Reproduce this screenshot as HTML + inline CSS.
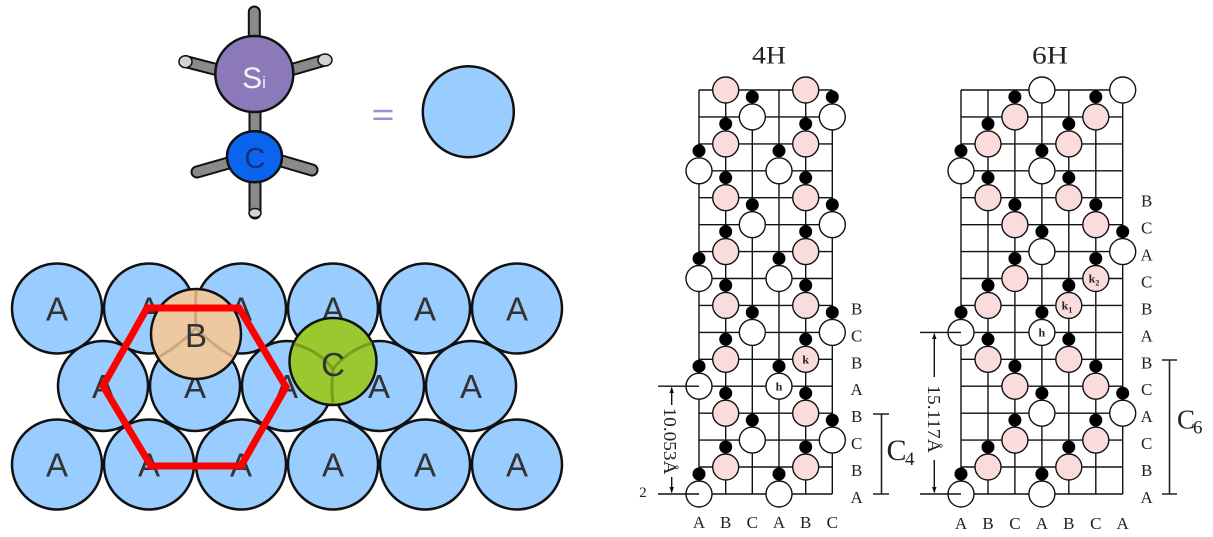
<!DOCTYPE html>
<html><head><meta charset="utf-8"><style>
html,body{margin:0;padding:0;background:#fff;}
svg{display:block;}
.sans{font-family:"Liberation Sans",sans-serif;}
.serif{font-family:"Liberation Serif",serif;}
.g{stroke:#111;stroke-width:1.4;fill:none;}
.w{fill:#fff;stroke:#111;stroke-width:1.4;}
.p{fill:#fadcdc;stroke:#111;stroke-width:1.4;}
.d{fill:#000;}
.ca{fill:#99ccff;stroke:#111;stroke-width:2.5;}
.la{font-family:"Liberation Serif",serif;font-size:17px;fill:#222;text-anchor:middle;}
.at{font-family:"Liberation Sans",sans-serif;font-size:33px;fill:#333;text-anchor:middle;}
</style></head><body>
<svg width="1213" height="537" viewBox="0 0 1213 537" xmlns="http://www.w3.org/2000/svg">
<rect width="1213" height="537" fill="#fff"/>

<!-- Molecule -->
<g stroke-linecap="round" fill="none">
<path d="M254.3 12V45 M186 61.7L222 71 M325 60L287 71 M255 108V136 M197 172L232 162 M312 170L278 160 M255 170V213" stroke="#111" stroke-width="13"/>
<path d="M254.3 12V45 M186 61.7L222 71 M325 60L287 71 M255 108V136 M197 172L232 162 M312 170L278 160 M255 170V213" stroke="#8a8a8a" stroke-width="9"/>
</g>
<ellipse cx="185.5" cy="61.7" rx="6.5" ry="6" fill="#d2d2d2" stroke="#111" stroke-width="1.5"/>
<ellipse cx="325" cy="60" rx="7" ry="6" fill="#d2d2d2" stroke="#111" stroke-width="1.5"/>
<ellipse cx="255" cy="213" rx="6" ry="4.5" fill="#d2d2d2" stroke="#111" stroke-width="1.5"/>
<ellipse cx="254.3" cy="74" rx="39" ry="38" fill="#8b79b9" stroke="#111" stroke-width="2.5"/>
<ellipse cx="254.5" cy="156.7" rx="27.5" ry="25.5" fill="#0a64ee" stroke="#111" stroke-width="2.5"/>
<text x="254" y="88" class="sans" fill="#f2f2f2" text-anchor="middle"><tspan font-size="30">S</tspan><tspan font-size="17">i</tspan></text>
<text x="255" y="168" class="sans" font-size="29" fill="#14307a" text-anchor="middle">C</text>
<rect x="373.5" y="109.8" width="19" height="2.5" fill="#9b8fd6"/>
<rect x="373.5" y="117.5" width="19" height="2.5" fill="#9b8fd6"/>
<circle cx="468.3" cy="111.7" r="45.5" class="ca"/>

<!-- Close packed layer -->
<g>
<circle cx="57" cy="308.5" r="45" class="ca"/><circle cx="149" cy="308.5" r="45" class="ca"/><circle cx="241" cy="308.5" r="45" class="ca"/><circle cx="333" cy="308.5" r="45" class="ca"/><circle cx="425" cy="308.5" r="45" class="ca"/><circle cx="517" cy="308.5" r="45" class="ca"/>
<circle cx="103" cy="386" r="45" class="ca"/><circle cx="195" cy="386" r="45" class="ca"/><circle cx="287" cy="386" r="45" class="ca"/><circle cx="379" cy="386" r="45" class="ca"/><circle cx="471" cy="386" r="45" class="ca"/>
<circle cx="57" cy="464.5" r="45" class="ca"/><circle cx="149" cy="464.5" r="45" class="ca"/><circle cx="241" cy="464.5" r="45" class="ca"/><circle cx="333" cy="464.5" r="45" class="ca"/><circle cx="425" cy="464.5" r="45" class="ca"/><circle cx="517" cy="464.5" r="45" class="ca"/>
</g>
<g class="at">
<text x="57" y="320.5">A</text><text x="149" y="320.5">A</text><text x="241" y="320.5">A</text><text x="333" y="320.5">A</text><text x="425" y="320.5">A</text><text x="517" y="320.5">A</text>
<text x="103" y="398">A</text><text x="195" y="398">A</text><text x="287" y="398">A</text><text x="379" y="398">A</text><text x="471" y="398">A</text>
<text x="57" y="476.5">A</text><text x="149" y="476.5">A</text><text x="241" y="476.5">A</text><text x="333" y="476.5">A</text><text x="425" y="476.5">A</text><text x="517" y="476.5">A</text>
</g>
<circle cx="196" cy="334" r="45" fill="#ecc9a1" stroke="#111" stroke-width="2.5"/>
<path d="M196 290Q195 310 196 328 M196 328Q180 345 159 357 M196 328Q212 345 233 357" stroke="#b08858" stroke-opacity=".5" stroke-width="3" fill="none"/>
<text x="196" y="347" class="at">B</text>
<circle cx="333" cy="361.5" r="43.5" fill="#99c92e" stroke="#111" stroke-width="2.5"/>
<path d="M294 344Q318 350 333 369 M372 343Q348 350 333 369 M333 369Q331 388 333 404" stroke="#6f8f1a" stroke-opacity=".75" stroke-width="3" fill="none"/>
<text x="333" y="376" class="at">C</text>
<polygon points="147,308 239,308 286,387 241,466 151,466 103,386" fill="none" stroke="#ff0000" stroke-width="7" stroke-linejoin="miter"/>

<!-- 4H -->
<text x="769" y="63.5" class="serif" font-size="25" fill="#222" text-anchor="middle" textLength="34" lengthAdjust="spacingAndGlyphs">4H</text>
<path class="g" d="M699 90V494M725.7 90V494M752.3 90V494M779 90V494M805.7 90V494M832.3 90V494
M699 90H832.3M699 116.9H832.3M699 143.9H832.3M699 170.8H832.3M699 197.7H832.3M699 224.7H832.3M699 251.6H832.3M699 278.5H832.3M699 305.4H832.3M699 332.4H832.3M699 359.3H832.3M699 386.2H832.3M699 413.2H832.3M699 440.1H832.3M699 467H832.3M699 494H832.3"/>
<g>
<circle class="p" cx="725.7" cy="90" r="13"/><circle class="p" cx="805.7" cy="90" r="13"/>
<circle class="p" cx="725.7" cy="143.9" r="13"/><circle class="p" cx="805.7" cy="143.9" r="13"/>
<circle class="p" cx="725.7" cy="197.7" r="13"/><circle class="p" cx="805.7" cy="197.7" r="13"/>
<circle class="p" cx="725.7" cy="251.6" r="13"/><circle class="p" cx="805.7" cy="251.6" r="13"/>
<circle class="p" cx="725.7" cy="305.4" r="13"/><circle class="p" cx="805.7" cy="305.4" r="13"/>
<circle class="p" cx="725.7" cy="359.3" r="13"/><circle class="p" cx="805.7" cy="359.3" r="13"/>
<circle class="p" cx="725.7" cy="413.2" r="13"/><circle class="p" cx="805.7" cy="413.2" r="13"/>
<circle class="p" cx="725.7" cy="467" r="13"/><circle class="p" cx="805.7" cy="467" r="13"/>
<circle class="w" cx="752.3" cy="116.9" r="13"/><circle class="w" cx="832.3" cy="116.9" r="13"/>
<circle class="w" cx="752.3" cy="224.7" r="13"/><circle class="w" cx="832.3" cy="224.7" r="13"/>
<circle class="w" cx="752.3" cy="332.4" r="13"/><circle class="w" cx="832.3" cy="332.4" r="13"/>
<circle class="w" cx="752.3" cy="440.1" r="13"/><circle class="w" cx="832.3" cy="440.1" r="13"/>
<circle class="w" cx="699" cy="170.8" r="13"/><circle class="w" cx="779" cy="170.8" r="13"/>
<circle class="w" cx="699" cy="278.5" r="13"/><circle class="w" cx="779" cy="278.5" r="13"/>
<circle class="w" cx="699" cy="386.2" r="13"/><circle class="w" cx="779" cy="386.2" r="13"/>
<circle class="w" cx="699" cy="494" r="13"/><circle class="w" cx="779" cy="494" r="13"/>
</g>
<g class="d">
<circle cx="752.3" cy="96.9" r="6.5"/><circle cx="832.3" cy="96.9" r="6.5"/>
<circle cx="725.7" cy="123.9" r="6.5"/><circle cx="805.7" cy="123.9" r="6.5"/>
<circle cx="699" cy="150.8" r="6.5"/><circle cx="779" cy="150.8" r="6.5"/>
<circle cx="725.7" cy="177.7" r="6.5"/><circle cx="805.7" cy="177.7" r="6.5"/>
<circle cx="752.3" cy="204.7" r="6.5"/><circle cx="832.3" cy="204.7" r="6.5"/>
<circle cx="725.7" cy="231.6" r="6.5"/><circle cx="805.7" cy="231.6" r="6.5"/>
<circle cx="699" cy="258.5" r="6.5"/><circle cx="779" cy="258.5" r="6.5"/>
<circle cx="725.7" cy="285.4" r="6.5"/><circle cx="805.7" cy="285.4" r="6.5"/>
<circle cx="752.3" cy="312.4" r="6.5"/><circle cx="832.3" cy="312.4" r="6.5"/>
<circle cx="725.7" cy="339.3" r="6.5"/><circle cx="805.7" cy="339.3" r="6.5"/>
<circle cx="699" cy="366.2" r="6.5"/><circle cx="779" cy="366.2" r="6.5"/>
<circle cx="725.7" cy="393.2" r="6.5"/><circle cx="805.7" cy="393.2" r="6.5"/>
<circle cx="752.3" cy="420.1" r="6.5"/><circle cx="832.3" cy="420.1" r="6.5"/>
<circle cx="725.7" cy="447" r="6.5"/><circle cx="805.7" cy="447" r="6.5"/>
<circle cx="699" cy="474" r="6.5"/><circle cx="779" cy="474" r="6.5"/>
</g>
<text x="805.7" y="363.5" class="serif" font-size="12" font-weight="bold" fill="#222" text-anchor="middle">k</text>
<text x="779" y="390.5" class="serif" font-size="12" font-weight="bold" fill="#222" text-anchor="middle">h</text>
<g class="la">
<text x="856.7" y="314.4">B</text><text x="856.7" y="341.4">C</text><text x="856.7" y="368.3">B</text><text x="856.7" y="395.2">A</text><text x="856.7" y="422.2">B</text><text x="856.7" y="449.1">C</text><text x="856.7" y="476">B</text><text x="856.7" y="503">A</text>
<text x="699" y="528">A</text><text x="725.7" y="528">B</text><text x="752.3" y="528">C</text><text x="779" y="528">A</text><text x="805.7" y="528">B</text><text x="832.3" y="528">C</text>
</g>
<!-- 4H dimension -->
<path d="M658 386.2H699M658 494H699M671.7 388V405M671.7 477V492" stroke="#111" stroke-width="1.4" fill="none"/>
<polygon points="669.5,393 673.9,393 671.7,386.5" fill="#111"/>
<polygon points="669.5,487 673.9,487 671.7,493.5" fill="#111"/>
<text transform="translate(670,441) rotate(90)" x="0" y="6" class="serif" font-size="18" fill="#222" text-anchor="middle" textLength="67" lengthAdjust="spacingAndGlyphs">10.053Å</text>
<text x="643" y="497" class="serif" font-size="15" fill="#222" text-anchor="middle">2</text>
<!-- C4 bracket -->
<path d="M881.5 414V494M873 414H889M873 494H889" stroke="#222" stroke-width="1.6" fill="none"/>
<text x="886.5" y="460" class="serif" font-size="30" fill="#222">C</text>
<text x="905" y="465" class="serif" font-size="19" fill="#222">4</text>

<!-- 6H -->
<text x="1050" y="63.5" class="serif" font-size="25" fill="#222" text-anchor="middle" textLength="36" lengthAdjust="spacingAndGlyphs">6H</text>
<path class="g" d="M961 90V494M988 90V494M1014.9 90V494M1041.9 90V494M1068.8 90V494M1095.8 90V494M1122.7 90V494
M961 90H1122.7M961 116.9H1122.7M961 143.9H1122.7M961 170.8H1122.7M961 197.7H1122.7M961 224.7H1122.7M961 251.6H1122.7M961 278.5H1122.7M961 305.4H1122.7M961 332.4H1122.7M961 359.3H1122.7M961 386.2H1122.7M961 413.2H1122.7M961 440.1H1122.7M961 467H1122.7M961 494H1122.7"/>
<g>
<circle class="w" cx="1041.9" cy="90" r="13"/><circle class="w" cx="1122.7" cy="90" r="13"/>
<circle class="w" cx="961" cy="170.8" r="13"/><circle class="w" cx="1041.9" cy="170.8" r="13"/>
<circle class="w" cx="1041.9" cy="251.6" r="13"/><circle class="w" cx="1122.7" cy="251.6" r="13"/>
<circle class="w" cx="961" cy="332.4" r="13"/><circle class="w" cx="1041.9" cy="332.4" r="13"/>
<circle class="w" cx="1041.9" cy="413.2" r="13"/><circle class="w" cx="1122.7" cy="413.2" r="13"/>
<circle class="w" cx="961" cy="494" r="13"/><circle class="w" cx="1041.9" cy="494" r="13"/>
<circle class="p" cx="1014.9" cy="116.9" r="13"/><circle class="p" cx="1095.8" cy="116.9" r="13"/>
<circle class="p" cx="988" cy="143.9" r="13"/><circle class="p" cx="1068.8" cy="143.9" r="13"/>
<circle class="p" cx="988" cy="197.7" r="13"/><circle class="p" cx="1068.8" cy="197.7" r="13"/>
<circle class="p" cx="1014.9" cy="224.7" r="13"/><circle class="p" cx="1095.8" cy="224.7" r="13"/>
<circle class="p" cx="1014.9" cy="278.5" r="13"/><circle class="p" cx="1095.8" cy="278.5" r="13"/>
<circle class="p" cx="988" cy="305.4" r="13"/><circle class="p" cx="1068.8" cy="305.4" r="13"/>
<circle class="p" cx="988" cy="359.3" r="13"/><circle class="p" cx="1068.8" cy="359.3" r="13"/>
<circle class="p" cx="1014.9" cy="386.2" r="13"/><circle class="p" cx="1095.8" cy="386.2" r="13"/>
<circle class="p" cx="1014.9" cy="440.1" r="13"/><circle class="p" cx="1095.8" cy="440.1" r="13"/>
<circle class="p" cx="988" cy="467" r="13"/><circle class="p" cx="1068.8" cy="467" r="13"/>
</g>
<g class="d">
<circle cx="1014.9" cy="96.9" r="6.5"/><circle cx="1095.8" cy="96.9" r="6.5"/>
<circle cx="988" cy="123.9" r="6.5"/><circle cx="1068.8" cy="123.9" r="6.5"/>
<circle cx="961" cy="150.8" r="6.5"/><circle cx="1041.9" cy="150.8" r="6.5"/>
<circle cx="988" cy="177.7" r="6.5"/><circle cx="1068.8" cy="177.7" r="6.5"/>
<circle cx="1014.9" cy="204.7" r="6.5"/><circle cx="1095.8" cy="204.7" r="6.5"/>
<circle cx="1041.9" cy="231.6" r="6.5"/><circle cx="1122.7" cy="231.6" r="6.5"/>
<circle cx="1014.9" cy="258.5" r="6.5"/><circle cx="1095.8" cy="258.5" r="6.5"/>
<circle cx="988" cy="285.4" r="6.5"/><circle cx="1068.8" cy="285.4" r="6.5"/>
<circle cx="961" cy="312.4" r="6.5"/><circle cx="1041.9" cy="312.4" r="6.5"/>
<circle cx="988" cy="339.3" r="6.5"/><circle cx="1068.8" cy="339.3" r="6.5"/>
<circle cx="1014.9" cy="366.2" r="6.5"/><circle cx="1095.8" cy="366.2" r="6.5"/>
<circle cx="1041.9" cy="393.2" r="6.5"/><circle cx="1122.7" cy="393.2" r="6.5"/>
<circle cx="1014.9" cy="420.1" r="6.5"/><circle cx="1095.8" cy="420.1" r="6.5"/>
<circle cx="988" cy="447" r="6.5"/><circle cx="1068.8" cy="447" r="6.5"/>
<circle cx="961" cy="474" r="6.5"/><circle cx="1041.9" cy="474" r="6.5"/>
</g>
<text x="1041.9" y="336.5" class="serif" font-size="12" font-weight="bold" fill="#222" text-anchor="middle">h</text>
<text x="1067" y="309.5" class="serif" font-size="12" font-weight="bold" fill="#222" text-anchor="middle">k<tspan font-size="8" dy="3">1</tspan></text>
<text x="1094" y="282.5" class="serif" font-size="12" font-weight="bold" fill="#222" text-anchor="middle">k<tspan font-size="8" dy="3">2</tspan></text>
<g class="la">
<text x="1146.7" y="206.7">B</text><text x="1146.7" y="233.7">C</text><text x="1146.7" y="260.6">A</text><text x="1146.7" y="287.5">C</text><text x="1146.7" y="314.4">B</text><text x="1146.7" y="341.4">A</text><text x="1146.7" y="368.3">B</text><text x="1146.7" y="395.2">C</text><text x="1146.7" y="422.2">A</text><text x="1146.7" y="449.1">C</text><text x="1146.7" y="476">B</text><text x="1146.7" y="503">A</text>
<text x="961" y="529">A</text><text x="988" y="529">B</text><text x="1014.9" y="529">C</text><text x="1041.9" y="529">A</text><text x="1068.8" y="529">B</text><text x="1095.8" y="529">C</text><text x="1122.7" y="529">A</text>
</g>
<!-- 6H dimension -->
<path d="M920 332.4H961M920 494H961M934.3 334V377M934.3 460V492" stroke="#111" stroke-width="1.4" fill="none"/>
<polygon points="932.1,339 936.5,339 934.3,332.7" fill="#111"/>
<polygon points="932.1,487 936.5,487 934.3,493.5" fill="#111"/>
<text transform="translate(934,419) rotate(90)" x="0" y="6" class="serif" font-size="18" fill="#222" text-anchor="middle" textLength="68" lengthAdjust="spacingAndGlyphs">15.117Å</text>
<!-- C6 bracket -->
<path d="M1169.5 360V494M1162 360H1177M1162 494H1177" stroke="#222" stroke-width="1.6" fill="none"/>
<text x="1177" y="428.5" class="serif" font-size="27" fill="#222">C</text>
<text x="1193" y="433.5" class="serif" font-size="19" fill="#222">6</text>
</svg>
</body></html>
